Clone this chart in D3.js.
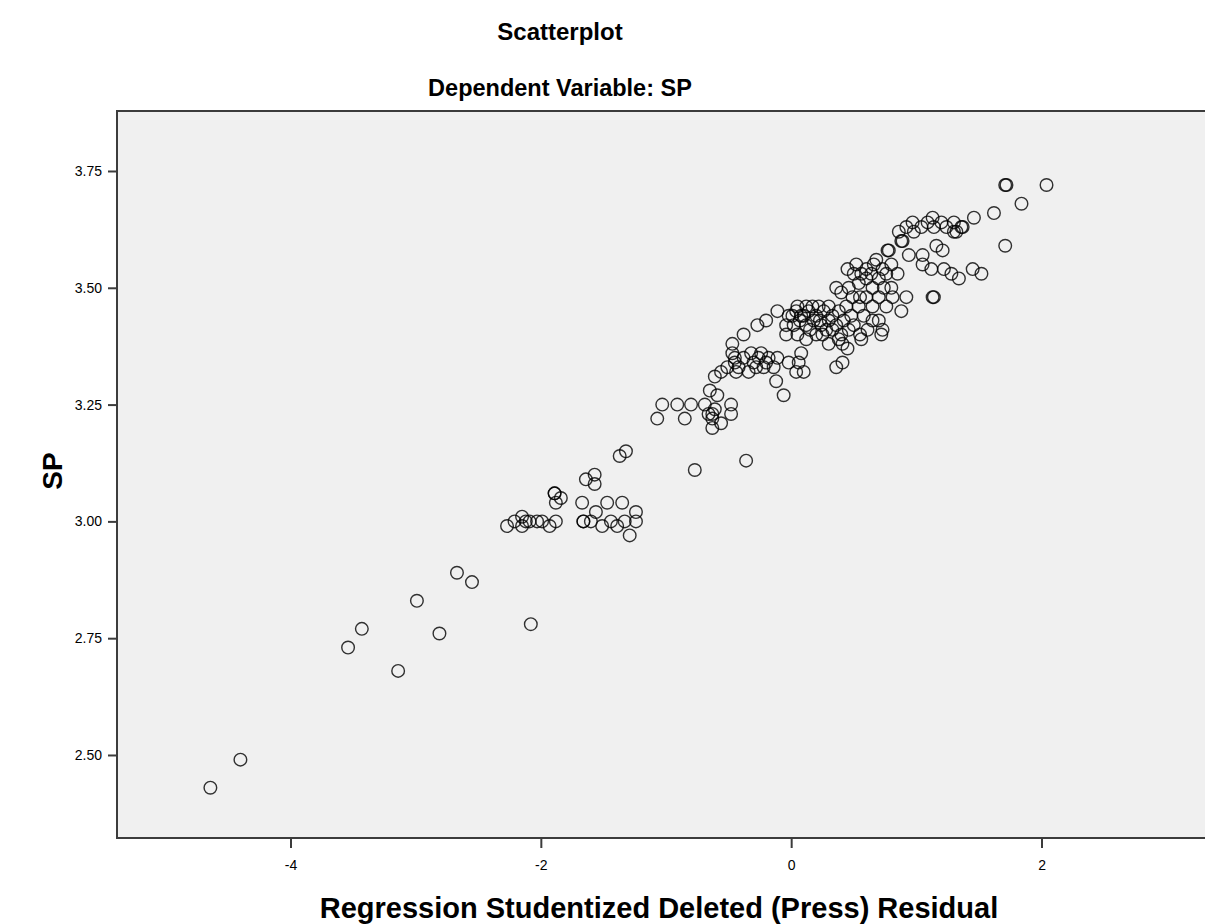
<!DOCTYPE html>
<html><head><meta charset="utf-8">
<script src="https://cdn.jsdelivr.net/npm/d3@7"></script>
<style>body{margin:0;background:#fff;}svg{display:block;font-family:"Liberation Sans",Arial,sans-serif;}</style>
</head><body>
<svg id="c" width="1205" height="924"></svg>
<script>
const title = "Scatterplot";
const subtitle = "Dependent Variable: SP";
const xLabel = "Regression Studentized Deleted (Press) Residual";
const yLabel = "SP";
const xTicks = [-4, -2, 0, 2];
const yTicks = [2.50, 2.75, 3.00, 3.25, 3.50, 3.75];

const residual = [
-4.64,-4.40,-3.54,-3.43,-3.14,-2.99,-2.81,-2.67,-2.55,-2.08,
-2.27,-2.21,-2.15,-2.15,-2.09,-2.03,-1.99,-1.93,-1.88,-2.12,
-1.89,-1.88,-1.84,-1.89,
-1.67,-1.66,-1.66,-1.56,-1.51,-1.47,-1.44,-1.39,-1.35,-1.33,-1.29,-1.24,-1.24,-1.60,
-1.64,-1.57,-1.57,-1.37,-1.32,-0.77,-0.36,
-1.07,-1.03,-0.91,-0.85,-0.80,-0.69,-0.65,-0.59,-0.63,-0.63,-0.63,-0.56,-0.48,-0.48,-0.61,-0.66,
-0.61,-0.56,-0.51,-0.45,-0.47,-0.47,-0.44,-0.38,-0.27,-0.20,-0.11,-0.38,-0.32,-0.28,-0.24,-0.22,-0.18,-0.14,-0.11,-0.12,-0.06,-0.02,0.04,0.08,0.10,0.12,-0.34,-0.26,-0.42,-0.30,-0.20,-0.45,0.06,
-0.04,-0.02,0.04,-0.04,0.36,0.41,0.41,0.72,0.56,
0.05,0.12,0.22,0.30,0.44,0.54,0.65,0.76,0.17,
0.01,0.08,0.14,0.20,0.26,0.33,0.38,0.48,0.58,0.88,0.10,0.23,
0.02,0.07,0.12,0.18,0.24,0.30,0.36,0.42,0.50,0.65,0.70,0.28,
0.05,0.15,0.25,0.33,0.40,0.46,0.61,0.73,0.20,
0.30,0.45,0.38,0.55,
0.49,0.60,0.70,0.81,0.92,1.13,0.55,
0.36,0.46,0.54,0.65,0.74,0.80,0.40,0.60,0.70,0.50,
0.45,0.52,0.60,0.68,0.73,0.80,0.85,0.56,0.64,0.76,0.66,
0.77,0.88,0.89,0.78,0.94,1.05,1.16,1.21,1.05,1.12,1.22,1.28,1.34,1.45,1.52,1.14,
0.86,0.92,0.97,0.98,1.04,1.09,1.13,1.14,1.20,1.24,1.30,1.32,1.36,1.30,1.37,1.46,1.62,1.84,1.71,1.72,2.04,1.71
];
const sp = [
2.43,2.49,2.73,2.77,2.68,2.83,2.76,2.89,2.87,2.78,
2.99,3.00,3.01,2.99,3.00,3.00,3.00,2.99,3.00,3.00,
3.06,3.04,3.05,3.06,
3.04,3.00,3.00,3.02,2.99,3.04,3.00,2.99,3.04,3.00,2.97,3.02,3.00,3.00,
3.09,3.10,3.08,3.14,3.15,3.11,3.13,
3.22,3.25,3.25,3.22,3.25,3.25,3.28,3.27,3.23,3.22,3.20,3.21,3.25,3.23,3.24,3.23,
3.31,3.32,3.33,3.34,3.36,3.38,3.32,3.40,3.42,3.43,3.45,3.35,3.36,3.33,3.36,3.33,3.35,3.33,3.35,3.30,3.27,3.34,3.32,3.36,3.32,3.39,3.32,3.35,3.33,3.34,3.34,3.35,3.34,
3.42,3.44,3.45,3.40,3.33,3.34,3.38,3.40,3.39,
3.46,3.46,3.46,3.46,3.46,3.46,3.46,3.46,3.46,
3.44,3.44,3.45,3.44,3.45,3.44,3.45,3.44,3.44,3.45,3.44,3.43,
3.42,3.43,3.42,3.43,3.42,3.43,3.42,3.43,3.42,3.43,3.43,3.41,
3.40,3.41,3.40,3.41,3.40,3.41,3.41,3.41,3.40,
3.38,3.37,3.39,3.40,
3.48,3.48,3.48,3.48,3.48,3.48,3.48,
3.50,3.50,3.51,3.50,3.50,3.50,3.49,3.52,3.52,3.53,
3.54,3.55,3.54,3.56,3.54,3.55,3.53,3.53,3.53,3.53,3.55,
3.58,3.60,3.60,3.58,3.57,3.57,3.59,3.58,3.55,3.54,3.54,3.53,3.52,3.54,3.53,3.48,
3.62,3.63,3.64,3.62,3.63,3.64,3.65,3.63,3.64,3.63,3.64,3.62,3.63,3.62,3.63,3.65,3.66,3.68,3.72,3.72,3.72,3.59
];

const svg = d3.select("#c");
const L = 117, R = 1212, T = 111, B = 838;
const x = d3.scaleLinear().domain([-5.386, 3.362]).range([L, R]);
const y = d3.scaleLinear().domain([2.3223, 3.8784]).range([B, T]);

svg.append("rect").attr("x", L).attr("y", T).attr("width", R - L).attr("height", B - T)
  .attr("fill", "#f0f0f0").attr("stroke", "#3c3c3c").attr("stroke-width", 2);

const xAxis = svg.append("g").attr("transform", `translate(0,${B})`)
  .call(d3.axisBottom(x).tickValues(xTicks).tickFormat(d => String(d)).tickSize(10).tickPadding(12));
const yAxis = svg.append("g").attr("transform", `translate(${L},0)`)
  .call(d3.axisLeft(y).tickValues(yTicks).tickFormat(d => d.toFixed(2)).tickSize(9).tickPadding(6));
[xAxis, yAxis].forEach(g => {
  g.attr("font-size", null).attr("font-family", null);
  g.select(".domain").remove();
  g.selectAll(".tick line").attr("stroke", "#3c3c3c").attr("stroke-width", 2);
  g.selectAll(".tick text").attr("fill", "#000").style("font-size", "14px").style("font-family", "Liberation Sans, Arial, sans-serif");
});

svg.append("g").selectAll("circle").data(d3.range(residual.length)).join("circle")
  .attr("cx", i => x(residual[i])).attr("cy", i => y(sp[i])).attr("r", 6.3)
  .attr("fill", "none").attr("stroke", "#000").attr("stroke-width", 1.4).attr("stroke-opacity", 0.8);

svg.append("text").attr("x", 560).attr("y", 40).attr("text-anchor", "middle")
  .style("font-size", "24px").style("font-weight", "bold").text(title);
svg.append("text").attr("x", 560).attr("y", 96).attr("text-anchor", "middle")
  .style("font-size", "23.5px").style("font-weight", "bold").text(subtitle);
svg.append("text").attr("x", 659).attr("y", 918).attr("text-anchor", "middle")
  .style("font-size", "29px").style("font-weight", "bold").text(xLabel);
svg.append("text").attr("transform", "translate(62,471) rotate(-90)").attr("text-anchor", "middle")
  .style("font-size", "28px").style("font-weight", "bold").text(yLabel);
</script>
</body></html>
